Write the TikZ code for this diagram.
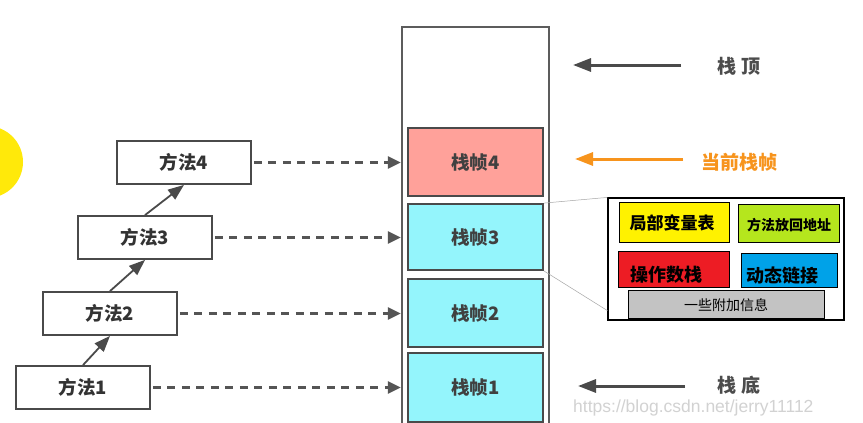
\documentclass[tikz,border=0pt]{standalone}
\usepackage{fontspec}
\setmainfont{Noto Sans CJK SC}
\newfontfamily\wmfont{Liberation Sans}
\usetikzlibrary{arrows.meta}
\definecolor{framered}{HTML}{FFA19A}
\definecolor{framecyan}{HTML}{94F5FC}
\definecolor{edgegray}{HTML}{4A4A4A}
\definecolor{dashgray}{HTML}{555555}
\definecolor{curorange}{HTML}{F7941D}
\definecolor{boxyellow}{HTML}{FFF200}
\definecolor{boxgreen}{HTML}{B5E61D}
\definecolor{boxred}{HTML}{ED1C24}
\definecolor{boxblue}{HTML}{00A2E8}
\definecolor{boxgray}{HTML}{C3C3C3}
\definecolor{ballyellow}{HTML}{FFE90A}
\tikzset{
  method/.style={draw=edgegray, line width=1.8pt, fill=white, minimum width=134pt, minimum height=43pt, inner sep=0pt, font=\fontsize{18.5}{18.5}\selectfont\bfseries, text=black!80},
  frame/.style={draw=edgegray, line width=1.8pt, minimum width=135pt, inner sep=0pt, font=\fontsize{18.5}{18.5}\selectfont\bfseries, text=black!75},
  solidarrow/.style={draw=edgegray, line width=1.8pt, -{Triangle[length=16pt,width=12pt]}},
  dasharrow/.style={draw=dashgray, line width=2.6pt, dash pattern=on 8pt off 6.5pt, -{Triangle[length=13pt,width=12pt]}},
  siderarrow/.style={line width=3pt, -{Triangle[length=18pt,width=13pt]}},
  sidelabel/.style={font=\fontsize{19}{19}\selectfont\bfseries, inner sep=0pt, anchor=west},
  part/.style={draw=black, line width=1pt, inner sep=0pt},
  parttext/.style={inner sep=0pt, text=black, font=\bfseries},
  zoomline/.style={draw=gray!70, line width=0.5pt},
  watermark/.style={inner sep=0pt, anchor=west, text=gray!35, font=\wmfont\fontsize{17.5}{17.5}\selectfont}
}
\begin{document}
\begin{tikzpicture}[x=1pt,y=-1pt]
\useasboundingbox (0,0) rectangle (863,423);
\fill[white] (0,0) rectangle (863,423);
% yellow ball at left edge
\fill[ballyellow] (-13,162) circle (36pt);
% stack
\node[draw=edgegray!90, line width=2.2pt, minimum width=147pt, minimum height=413pt, inner sep=0pt] (stack) at (475.5,233.5) {};
\node[frame, fill=framered, minimum height=68pt] (f4) at (475.5,162) {栈帧4};
\node[frame, fill=framecyan, minimum height=66pt] (f3) at (475.5,237) {栈帧3};
\node[frame, fill=framecyan, minimum height=68pt] (f2) at (475.5,313) {栈帧2};
\node[frame, fill=framecyan, minimum height=69pt] (f1) at (475.5,387.5) {栈帧1};
% methods
\node[method] (m4) at (184,162.5) {方法4};
\node[method] (m3) at (145,237.5) {方法3};
\node[method] (m2) at (110,313.5) {方法2};
\node[method] (m1) at (83,387.5) {方法1};
\draw[solidarrow] (m1.north) -- (m2.south);
\draw[solidarrow] (m2.north) -- (m3.south);
\draw[solidarrow] (m3.north) -- (m4.south);
\draw[dasharrow] ([xshift=2pt]m4.east) -- (m4.east -| stack.west);
\draw[dasharrow] ([xshift=2pt]m3.east) -- (m3.east -| stack.west);
\draw[dasharrow] ([xshift=2pt]m2.east) -- (m2.east -| stack.west);
\draw[dasharrow] ([xshift=2pt]m1.east) -- (m1.east -| stack.west);
% side labels
\node[sidelabel, text=black!70] (ltop) at (717,66) {栈\hspace{0.3em}顶};
\node[sidelabel, text=curorange] (lcur) at (701,162) {当前栈帧};
\node[sidelabel, text=black!70] (lbot) at (717,385) {栈\hspace{0.3em}底};
\coordinate (stop) at (681,65);
\coordinate (ttop) at (573,65);
\coordinate (scur) at (683,159);
\coordinate (tcur) at (575,159);
\coordinate (sbot) at (685,386);
\coordinate (tbot) at (578,386);
\draw[siderarrow, draw=edgegray, fill=edgegray] (stop) -- (ttop);
\draw[siderarrow, draw=curorange, fill=curorange] (scur) -- (tcur);
\draw[siderarrow, draw=edgegray, fill=edgegray] (sbot) -- (tbot);
% detail box
\node[draw=black, line width=1.2pt, minimum width=236pt, minimum height=122pt, inner sep=0pt, fill=white] (detail) at (726,259) {};
\draw[zoomline] (f3.north east) -- (detail.north west);
\draw[zoomline] (f3.south east) -- ([yshift=10pt]detail.south west);
\node[part, fill=boxyellow, minimum width=110pt, minimum height=40pt] (p1) at (674,222) {};
\node[part, fill=boxgreen, minimum width=101pt, minimum height=38pt] (p2) at (788.5,223) {};
\node[part, fill=boxred, minimum width=111pt, minimum height=36pt] (p3) at (673.5,269) {};
\node[part, fill=boxblue, minimum width=96pt, minimum height=34pt] (p4) at (789,270) {};
\node[part, fill=boxgray, minimum width=196pt, minimum height=28pt] (p5) at (726,304) {};
\node[parttext, font=\fontsize{17}{17}\selectfont\bfseries] (t1) at (672,223) {局部变量表};
\node[parttext, font=\fontsize{14}{14}\selectfont\bfseries] (t2) at (789,225) {方法放回地址};
\node[parttext, font=\fontsize{18}{18}\selectfont\bfseries] (t3) at (666,275) {操作数栈};
\node[parttext, font=\fontsize{18}{18}\selectfont\bfseries] (t4) at (782,276) {动态链接};
\node[parttext, font=\fontsize{14}{14}\selectfont] (t5) at (726,305) {一些附加信息};
% watermark
\node[watermark] (wm) at (573,408) {https://blog.csdn.net/jerry11112};
\end{tikzpicture}
\end{document}
